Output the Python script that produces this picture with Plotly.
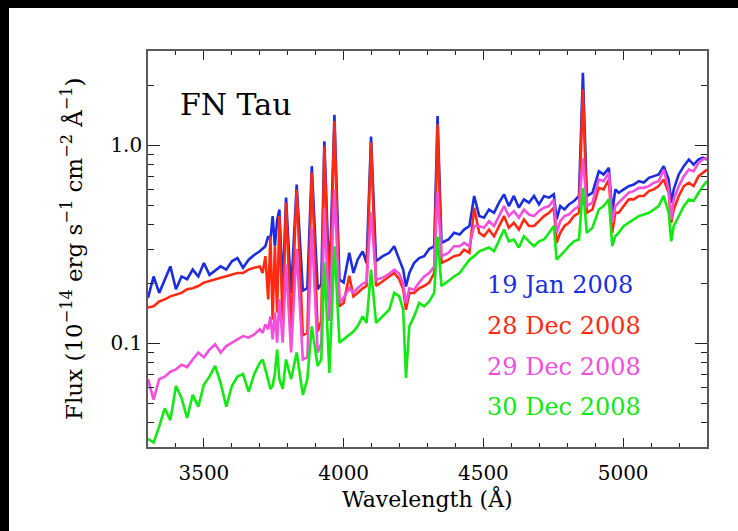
import math
import plotly.graph_objects as go

# ---------------- data ----------------
wavelength = [
    3300, 3320, 3340, 3360, 3380, 3400, 3420, 3440, 3460, 3480,
    3500, 3520, 3540, 3560, 3580, 3600, 3620, 3640, 3660, 3680,
    3700, 3710, 3720, 3730, 3738, 3746, 3754, 3762,
    3770, 3782, 3794, 3812, 3832, 3854, 3870, 3886, 3907, 3920,
    3931, 3949, 3967, 3985, 4000, 4020, 4035, 4050, 4068, 4082,
    4098, 4116, 4140, 4163, 4181, 4199, 4213, 4223, 4235, 4252,
    4270, 4288, 4306, 4324, 4336, 4350, 4375, 4395, 4415, 4431,
    4450, 4467, 4485, 4502, 4520, 4538, 4556, 4574, 4591, 4609,
    4627, 4645, 4663, 4681, 4699, 4717, 4735, 4752, 4762, 4775,
    4790, 4806, 4824, 4842, 4856, 4870, 4890, 4913, 4930, 4949,
    4961, 4972, 4984, 5002, 5020, 5038, 5056, 5074, 5092, 5110,
    5127, 5145, 5163, 5172, 5181, 5199, 5217, 5235, 5252, 5270,
    5285, 5300,
]

flux_19jan2008 = [
    0.17, 0.218, 0.18, 0.211, 0.245, 0.188, 0.218, 0.211, 0.236, 0.218,
    0.255, 0.222, 0.232, 0.245, 0.236, 0.26, 0.27, 0.241, 0.265, 0.28,
    0.292, 0.30, 0.31, 0.348, 0.335, 0.44, 0.31, 0.42,
    0.475, 0.188, 0.546, 0.18, 0.635, 0.185, 0.19, 0.786, 0.188, 0.20,
    1.05, 0.195, 1.43, 0.21, 0.203, 0.287, 0.227, 0.265, 0.292, 0.255,
    1.11, 0.26, 0.276, 0.287, 0.31, 0.265, 0.236, 0.194, 0.227, 0.255,
    0.27, 0.276, 0.30, 0.31, 1.41, 0.322, 0.335, 0.362, 0.355, 0.376,
    0.392, 0.556, 0.44, 0.432, 0.475, 0.457, 0.514, 0.566, 0.494, 0.556,
    0.485, 0.534, 0.514, 0.556, 0.504, 0.556, 0.545, 0.566, 0.423, 0.494,
    0.475, 0.504, 0.524, 0.556, 2.33, 0.556, 0.577, 0.74, 0.714, 0.77,
    0.457, 0.60, 0.577, 0.60, 0.623, 0.635, 0.66, 0.65, 0.686, 0.70,
    0.714, 0.786, 0.673, 0.514, 0.60, 0.714, 0.786, 0.85, 0.80, 0.85,
    0.867, 0.85,
]

flux_28dec2008 = [
    0.152, 0.154, 0.163, 0.167, 0.173, 0.177, 0.18, 0.188, 0.19, 0.195,
    0.203, 0.207, 0.211, 0.215, 0.218, 0.222, 0.227, 0.227, 0.236, 0.241,
    0.245, 0.227, 0.276, 0.167, 0.348, 0.132, 0.31, 0.143,
    0.44, 0.122, 0.515, 0.115, 0.60, 0.11, 0.113, 0.73, 0.115, 0.13,
    0.99, 0.145, 1.33, 0.154, 0.16, 0.22, 0.173, 0.18, 0.19, 0.195,
    1.04, 0.195, 0.207, 0.218, 0.227, 0.211, 0.188, 0.148, 0.18, 0.18,
    0.19, 0.195, 0.203, 0.227, 1.28, 0.255, 0.265, 0.276, 0.28, 0.298,
    0.287, 0.485, 0.362, 0.348, 0.376, 0.348, 0.392, 0.44, 0.384, 0.407,
    0.376, 0.423, 0.392, 0.392, 0.415, 0.44, 0.457, 0.485, 0.322, 0.362,
    0.392, 0.407, 0.44, 0.457, 1.92, 0.457, 0.475, 0.611, 0.60, 0.673,
    0.362, 0.457, 0.457, 0.494, 0.534, 0.534, 0.556, 0.556, 0.588, 0.60,
    0.623, 0.673, 0.577, 0.407, 0.475, 0.556, 0.623, 0.648, 0.623, 0.70,
    0.728, 0.756,
]

flux_29dec2008 = [
    0.066, 0.052, 0.066, 0.068, 0.072, 0.074, 0.078, 0.076, 0.083, 0.09,
    0.085, 0.093, 0.099, 0.09, 0.097, 0.101, 0.105, 0.109, 0.107, 0.111,
    0.118, 0.113, 0.125, 0.118, 0.137, 0.105, 0.143, 0.101,
    0.167, 0.101, 0.25, 0.09, 0.30, 0.083, 0.085, 0.38, 0.09, 0.10,
    0.48, 0.13, 0.60, 0.16, 0.17, 0.19, 0.18, 0.19, 0.20, 0.205,
    0.46, 0.21, 0.215, 0.225, 0.236, 0.225, 0.20, 0.16, 0.19, 0.187,
    0.203, 0.218, 0.227, 0.245, 0.58, 0.276, 0.287, 0.31, 0.31, 0.322,
    0.31, 0.392, 0.392, 0.384, 0.415, 0.392, 0.44, 0.494, 0.44, 0.466,
    0.432, 0.475, 0.448, 0.44, 0.466, 0.485, 0.494, 0.534, 0.362, 0.415,
    0.44, 0.448, 0.475, 0.494, 0.86, 0.494, 0.514, 0.673, 0.66, 0.728,
    0.407, 0.494, 0.514, 0.545, 0.577, 0.588, 0.611, 0.611, 0.623, 0.648,
    0.66, 0.756, 0.60, 0.423, 0.534, 0.623, 0.70, 0.756, 0.742, 0.818,
    0.85, 0.867,
]

flux_30dec2008 = [
    0.033, 0.0316, 0.038, 0.047, 0.041, 0.061, 0.053, 0.042, 0.055, 0.048,
    0.062, 0.068, 0.077, 0.063, 0.048, 0.061, 0.068, 0.07, 0.057, 0.07,
    0.080, 0.083, 0.074, 0.066, 0.059, 0.061, 0.071, 0.093,
    0.066, 0.059, 0.083, 0.066, 0.09, 0.055, 0.066, 0.122, 0.077, 0.083,
    0.256, 0.071, 0.31, 0.101, 0.105, 0.111, 0.115, 0.122, 0.137, 0.127,
    0.236, 0.127, 0.137, 0.148, 0.18, 0.173, 0.148, 0.067, 0.122, 0.137,
    0.16, 0.154, 0.163, 0.18, 0.347, 0.195, 0.207, 0.218, 0.227, 0.245,
    0.265, 0.276, 0.292, 0.298, 0.305, 0.292, 0.335, 0.376, 0.328, 0.335,
    0.305, 0.348, 0.328, 0.31, 0.328, 0.335, 0.362, 0.392, 0.265, 0.276,
    0.292, 0.31, 0.328, 0.335, 0.611, 0.362, 0.384, 0.475, 0.494, 0.534,
    0.31, 0.348, 0.362, 0.392, 0.407, 0.423, 0.44, 0.448, 0.457, 0.475,
    0.494, 0.556, 0.457, 0.328, 0.392, 0.44, 0.494, 0.534, 0.524, 0.577,
    0.623, 0.66,
]

series_labels = ["19 Jan 2008", "28 Dec 2008", "29 Dec 2008", "30 Dec 2008"]
series_colors = ["#1a2ee0", "#ff2a12", "#f24fdc", "#12e812"]
series_values = [flux_19jan2008, flux_28dec2008, flux_29dec2008, flux_30dec2008]

x_major_ticks = [3500, 4000, 4500, 5000]
x_minor_ticks = [3400, 3600, 3700, 3800, 3900, 4100, 4200, 4300, 4400,
                 4600, 4700, 4800, 4900, 5100, 5200]
y_major_ticks = [0.1, 1.0]
y_major_text = ["0.1", "1.0"]
y_minor_ticks = [0.04, 0.05, 0.06, 0.07, 0.08, 0.09,
                 0.2, 0.3, 0.4, 0.5, 0.6, 0.7, 0.8, 0.9, 2.0]

# ---------------- figure ----------------
W, H = 738, 531
L, R, T, B = 148, 31, 51, 84
pw, ph = W - L - R, H - T - B


def px(xp):
    return (xp - L) / pw


def py(yp):
    return (H - B - yp) / ph


fig = go.Figure()
for vals, col, name in zip(series_values, series_colors, series_labels):
    fig.add_trace(go.Scatter(x=wavelength, y=vals, mode="lines", name=name,
                             line=dict(color=col, width=2.6)))

FONT = "DejaVu Serif"
axis_common = dict(
    ticks="inside", mirror="allticks", showline=True, linecolor="#5a5a5a",
    linewidth=1.6, showgrid=False, zeroline=False, tickcolor="#222",
    tickwidth=1, tickfont=dict(family=FONT, size=20, color="black"),
)

fig.update_layout(
    width=W, height=H, margin=dict(l=L, r=R, t=T, b=B),
    paper_bgcolor="white", plot_bgcolor="white", showlegend=False,
    font=dict(family=FONT, color="black"),
    xaxis=dict(range=[3300, 5300], tickmode="array", tickvals=x_major_ticks,
               ticklen=9, ticklabelstandoff=7,
               minor=dict(tickmode="array", tickvals=x_minor_ticks,
                          ticklen=4.5, ticks="inside", tickcolor="#222",
                          tickwidth=1),
               **axis_common),
    yaxis=dict(type="log", range=[math.log10(0.03), math.log10(3.0)],
               tickmode="array", tickvals=y_major_ticks, ticktext=y_major_text,
               ticklen=12, ticklabelstandoff=0,
               minor=dict(tickmode="array", tickvals=y_minor_ticks,
                          ticklen=6, ticks="inside", tickcolor="#222",
                          tickwidth=1),
               **axis_common),
)

annotations = [
    dict(text="FN Tau", x=px(178), y=py(104), xanchor="left", yanchor="middle",
         font=dict(family=FONT, size=30, color="black")),
    dict(text="Wavelength (Å)", x=0.5, y=py(498), xanchor="center",
         yanchor="middle", font=dict(family=FONT, size=22, color="black")),
    dict(text="Flux (10<sup>−14</sup> erg s<sup>−1</sup> cm<sup>−2</sup> Å<sup>−1</sup>)",
         x=px(72), y=0.5, xanchor="center", yanchor="middle", textangle=-90,
         font=dict(family=FONT, size=23, color="black")),
]
legend_y = [285, 326, 367, 407]
for lab, col, yy in zip(series_labels, series_colors, legend_y):
    annotations.append(dict(text=lab, x=px(485), y=py(yy), xanchor="left",
                            yanchor="middle",
                            font=dict(family=FONT, size=24, color=col)))
for a in annotations:
    a.update(xref="paper", yref="paper", showarrow=False)
fig.update_layout(annotations=annotations)

# black frame strips (top and left edges of the picture)
fig.add_shape(type="rect", xref="paper", yref="paper", x0=px(0), x1=px(W),
              y0=py(8), y1=py(0), fillcolor="black", line=dict(width=0))
fig.add_shape(type="rect", xref="paper", yref="paper", x0=px(0), x1=px(9),
              y0=py(H), y1=py(0), fillcolor="black", line=dict(width=0))

fig.write_html("out.html",
               config={"displayModeBar": False},
               post_script="document.body.style.margin='0px';"
                           "document.body.style.padding='0px';")
